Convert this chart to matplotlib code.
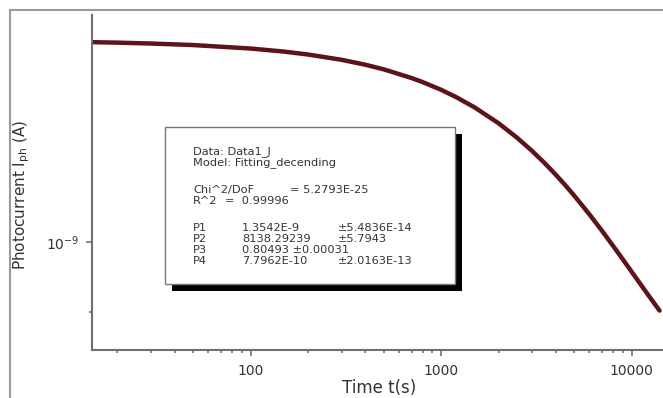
import matplotlib
matplotlib.use("Agg")
import matplotlib.pyplot as plt
from matplotlib.patches import Rectangle
from matplotlib.lines import Line2D
from matplotlib.ticker import NullFormatter, FixedLocator, FixedFormatter

plt.rcParams['font.family'] = ['DejaVu Sans']
plt.rcParams['mathtext.default'] = 'regular'

# ---- data ----
time_s = [15, 20, 30, 50, 100, 150, 200, 300, 400, 500, 700, 800, 1000, 1200,
          1500, 2000, 2500, 3000, 3500, 4000, 4500, 5000, 6000, 7000, 8500,
          10000, 12000, 14000]
photocurrent_A = [1.3506e-9, 1.3497e-9, 1.3479e-9, 1.3448e-9, 1.3378e-9,
                  1.3316e-9, 1.3258e-9, 1.3153e-9, 1.3056e-9, 1.2965e-9,
                  1.2797e-9, 1.2719e-9, 1.2572e-9, 1.2434e-9, 1.2243e-9,
                  1.1956e-9, 1.1699e-9, 1.1468e-9, 1.1257e-9, 1.1063e-9,
                  1.0885e-9, 1.0720e-9, 1.0424e-9, 1.0166e-9, 0.9836e-9,
                  0.9561e-9, 0.9261e-9, 0.9019e-9]
x_ticks = [100, 1000, 10000]
x_tick_labels = ['100', '1000', '10000']
x_minor_ticks = [20, 30, 40, 50, 60, 70, 80, 90,
                 200, 300, 400, 500, 600, 700, 800, 900,
                 2000, 3000, 4000, 5000, 6000, 7000, 8000, 9000]
y_ticks = [1e-9]
y_tick_labels = [r'$10^{-9}$']
y_minor_ticks = [9e-10]

box_lines = [
    ("Data: Data1_J", None, None),
    ("Model: Fitting_decending", None, None),
    ("Chi^2/DoF", "= 5.2793E-25", None),
    ("R^2", "=  0.99996", None),
    ("P1", "1.3542E-9", "\u00b15.4836E-14"),
    ("P2", "8138.29239", "\u00b15.7943"),
    ("P3", "0.80493 \u00b10.00031", None),
    ("P4", "7.7962E-10", "\u00b12.0163E-13"),
]

W, H = 663, 398
fig = plt.figure(figsize=(W / 100, H / 100), dpi=100)

def fx(px):
    return px / W

def fy(py):
    return 1 - py / H

ax = fig.add_axes([fx(92), fy(350), fx(663) - fx(92), fy(15) - fy(350)])
ax.plot(time_s, photocurrent_A, color='#5c1418', lw=3.2, solid_capstyle='round',
        solid_joinstyle='round')
ax.set_xscale('log')
ax.set_yscale('log')
ax.set_xlim(14.7, 14600)
ax.set_ylim(0.850e-9, 1.407e-9)

ax.xaxis.set_major_locator(FixedLocator(x_ticks))
ax.xaxis.set_major_formatter(FixedFormatter(x_tick_labels))
ax.xaxis.set_minor_locator(FixedLocator(x_minor_ticks))
ax.xaxis.set_minor_formatter(NullFormatter())
ax.yaxis.set_major_locator(FixedLocator(y_ticks))
ax.yaxis.set_major_formatter(FixedFormatter(y_tick_labels))
ax.yaxis.set_minor_locator(FixedLocator(y_minor_ticks))
ax.yaxis.set_minor_formatter(NullFormatter())

for s in ['top', 'right']:
    ax.spines[s].set_visible(False)
for s in ['left', 'bottom']:
    ax.spines[s].set_color('#707070')
    ax.spines[s].set_linewidth(1.5)
ax.tick_params(axis='both', which='major', direction='out', length=4, width=1.2,
               color='#707070', labelsize=10, labelcolor='#333333')
ax.tick_params(axis='both', which='minor', direction='out', length=2.5, width=1.2,
               color='#707070')
ax.tick_params(axis='x', which='major', pad=6)
ax.tick_params(axis='y', which='major', pad=5)

# axis labels
fig.text(fx(22), fy(195), r'Photocurrent I$_{ph}$ (A)', rotation=90,
         ha='center', va='center', fontsize=11, color='#333333')
fig.text(fx(379), fy(388), 'Time t(s)', ha='center', va='center',
         fontsize=12, color='#333333')

# outer frame
fig.add_artist(Line2D([fx(10), fx(10)], [fy(10), fy(400)], color='#999999', lw=1.5))
fig.add_artist(Line2D([fx(10), fx(665)], [fy(10), fy(10)], color='#999999', lw=1.5))

# stats box with shadow
bx0, by0, bx1, by1 = 165, 127, 455, 284
sh = 7
fig.add_artist(Rectangle((fx(bx0 + sh), fy(by1 + sh)), fx(bx1) - fx(bx0),
                         fy(by0) - fy(by1), facecolor='black', edgecolor='black', lw=0))
fig.add_artist(Rectangle((fx(bx0), fy(by1)), fx(bx1) - fx(bx0), fy(by0) - fy(by1),
                         facecolor='white', edgecolor='#777777', lw=1.0))

fs = 8.2
row_y = [152, 163, 190, 201, 228, 239, 250, 261]
for (a, b, c), y in zip(box_lines, row_y):
    fig.text(fx(193), fy(y), a, ha='left', va='center', fontsize=fs, color='#333333')
    if b is not None:
        bx = 290 if a.startswith('Chi') else (225 if a.startswith('R') else 242)
        fig.text(fx(bx), fy(y), b, ha='left', va='center', fontsize=fs, color='#333333')
    if c is not None:
        fig.text(fx(338), fy(y), c, ha='left', va='center', fontsize=fs, color='#333333')

fig.savefig('out.png', dpi=100)
